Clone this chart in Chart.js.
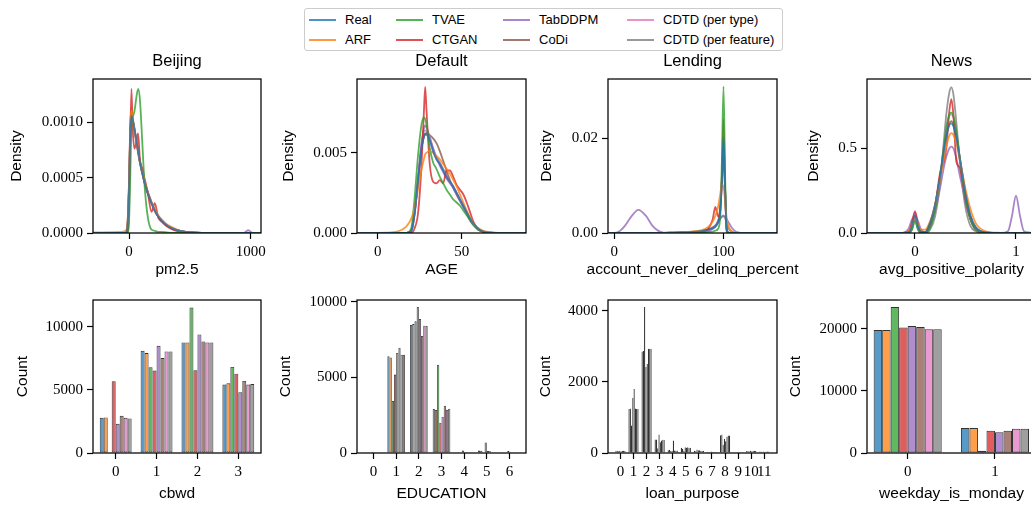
<!DOCTYPE html>
<html>
<head>
<meta charset="utf-8">
<title>Marginal distributions</title>
<script src="https://cdn.jsdelivr.net/npm/chart.js@4.4.1/dist/chart.umd.min.js"></script>
<style>
  html, body { margin: 0; padding: 0; background: #fff; }
  body { position: relative; width: 1031px; height: 508px; overflow: hidden; }
  canvas { position: absolute; }
  #legend { position: absolute; left: 304px; top: 8px; width: 479px; height: 43px; border: 1px solid #ccc;
            border-radius: 3px; box-sizing: border-box; font-family: "Liberation Sans", Arial, sans-serif; font-size: 13px; }
  #legend .swatch { position: absolute; width: 27px; height: 2px; }
  #legend .name { position: absolute; line-height: 16px; white-space: nowrap; color: #000; }
</style>
</head>
<body>
<div id="legend"></div>
<script>
const models = ["Real", "ARF", "TVAE", "CTGAN", "TabDDPM", "CoDi", "CDTD (per type)", "CDTD (per feature)"];
const tab10 = ["31,119,180", "255,127,14", "44,160,44", "214,39,40", "148,103,189", "140,86,75", "227,119,194", "127,127,127"];

// ---- Beijing / pm2.5 (density) ----
const beijingX = [-300, -60, -30, -15, 0, 10, 20, 30, 45, 60, 75, 90, 110, 130, 155, 185, 212, 240, 270, 310, 360, 420, 520, 700, 940, 980, 1020, 1080];
const beijingDensity = [
  [0, 0, 0, 0.00003, 0.0004, 0.00088, 0.00106, 0.00103, 0.00094, 0.00084, 0.00074, 0.00064, 0.00054, 0.00045, 0.00036, 0.00027, 0.0002, 0.00015, 0.00011, 0.00007, 0.00004, 0.00002, 0.000005, 0, 0, 0, 0, 0],
  [0.000005, 0.00001, 0.00002, 0.00006, 0.00045, 0.00095, 0.00111, 0.00104, 0.00093, 0.00083, 0.00073, 0.00064, 0.00055, 0.00046, 0.00037, 0.00028, 0.00021, 0.00016, 0.00012, 0.00008, 0.00005, 0.00002, 0.000005, 0, 0, 0, 0, 0],
  [0, 0, 0, 0, 0.0001, 0.0005, 0.00095, 0.00104, 0.0011, 0.00122, 0.0013, 0.0012, 0.0008, 0.0004, 0.00014, 0.00003, 0.00002, 0.00001, 0.00001, 0.000005, 0, 0, 0, 0, 0, 0, 0, 0],
  [0, 0, 0, 0, 0.0002, 0.0008, 0.0013, 0.00095, 0.00076, 0.00082, 0.0009, 0.00066, 0.00058, 0.00048, 0.00036, 0.00019, 0.00027, 0.00014, 0.0001, 0.00006, 0.00003, 0.00001, 0, 0, 0, 0, 0, 0],
  [0, 0, 0, 0.00002, 0.00038, 0.00086, 0.00103, 0.00101, 0.00093, 0.00084, 0.00075, 0.00065, 0.00055, 0.00046, 0.00037, 0.00028, 0.00021, 0.00015, 0.00011, 0.00007, 0.00004, 0.00002, 0.000005, 0, 0, 0.000025, 0, 0],
  [0, 0, 0, 0.00004, 0.00045, 0.00096, 0.00112, 0.00102, 0.00092, 0.00082, 0.00072, 0.00063, 0.00053, 0.00044, 0.00035, 0.00027, 0.0002, 0.00015, 0.00011, 0.00007, 0.00004, 0.00002, 0.000005, 0, 0, 0, 0, 0],
  [0, 0, 0, 0.00003, 0.0004, 0.0009, 0.00105, 0.00103, 0.00094, 0.00084, 0.00074, 0.00064, 0.00054, 0.00045, 0.00036, 0.00027, 0.0002, 0.00015, 0.00011, 0.00007, 0.00004, 0.00002, 0.000005, 0, 0, 0, 0, 0],
  [0, 0, 0, 0.00003, 0.00041, 0.00089, 0.00104, 0.00102, 0.00094, 0.00084, 0.00074, 0.00064, 0.00054, 0.00045, 0.00036, 0.00027, 0.0002, 0.00015, 0.00011, 0.00007, 0.00004, 0.00002, 0.000005, 0, 0, 0, 0, 0]
];
const beijingXTicks = [0, 1000];
const beijingYTicks = [0, 0.0005, 0.001];

// ---- Default / AGE (density) ----
const defaultX = [-12, 5, 12, 17, 20, 22, 24, 26, 27.5, 28.3, 29, 31, 33, 35, 37, 39, 41, 43, 45, 47, 49, 51, 53, 55, 57, 60, 64, 70, 80, 88];
const defaultDensity = [
  [0, 0, 0, 0, 0.0001, 0.0012, 0.0032, 0.0052, 0.006, 0.0062, 0.0062, 0.0058, 0.0051, 0.0046, 0.0043, 0.0039, 0.0035, 0.0032, 0.0029, 0.0025, 0.0021, 0.0017, 0.0013, 0.0009, 0.0006, 0.00025, 0.00006, 0.00001, 0, 0],
  [0, 0.00002, 0.0001, 0.0004, 0.0009, 0.0016, 0.0027, 0.0039, 0.0046, 0.0049, 0.005, 0.0051, 0.005, 0.0048, 0.0046, 0.0043, 0.004, 0.0037, 0.0033, 0.0029, 0.0024, 0.0019, 0.0014, 0.001, 0.0006, 0.0003, 0.0001, 0.00002, 0, 0],
  [0, 0, 0, 0, 0.0003, 0.0022, 0.0048, 0.0067, 0.0072, 0.0071, 0.0068, 0.0053, 0.0044, 0.004, 0.0035, 0.0031, 0.0027, 0.0024, 0.0021, 0.0019, 0.0017, 0.0014, 0.0011, 0.0008, 0.0005, 0.0002, 0.00005, 0, 0, 0],
  [0, 0, 0, 0, 0, 0.0003, 0.0012, 0.004, 0.0075, 0.0091, 0.0078, 0.0043, 0.0032, 0.0031, 0.0033, 0.0031, 0.0039, 0.0039, 0.0035, 0.003, 0.0027, 0.0024, 0.0019, 0.0013, 0.0007, 0.0002, 0.00004, 0, 0, 0],
  [0, 0, 0, 0, 0.0001, 0.0012, 0.0033, 0.0055, 0.0065, 0.0067, 0.0066, 0.006, 0.0053, 0.0047, 0.0042, 0.0038, 0.0034, 0.0031, 0.0028, 0.0024, 0.002, 0.0016, 0.0012, 0.0008, 0.0005, 0.0002, 0.00005, 0, 0, 0],
  [0, 0, 0, 0, 0.0002, 0.0013, 0.0033, 0.0052, 0.006, 0.0062, 0.0062, 0.0061, 0.0059, 0.0056, 0.0051, 0.0045, 0.0039, 0.0033, 0.0028, 0.0024, 0.002, 0.0016, 0.0012, 0.0008, 0.0005, 0.0002, 0.00005, 0, 0, 0],
  [0, 0, 0, 0, 0.0001, 0.0013, 0.0034, 0.0055, 0.0063, 0.0064, 0.0063, 0.0058, 0.0051, 0.0046, 0.0043, 0.0039, 0.0035, 0.0032, 0.0029, 0.0025, 0.0021, 0.0017, 0.0013, 0.0009, 0.0006, 0.00025, 0.00006, 0.00001, 0, 0],
  [0, 0, 0, 0, 0.0001, 0.0012, 0.0032, 0.0052, 0.006, 0.0061, 0.0061, 0.0058, 0.0052, 0.0047, 0.0044, 0.004, 0.0036, 0.0032, 0.0029, 0.0025, 0.0021, 0.0017, 0.0013, 0.0009, 0.0006, 0.00025, 0.00006, 0.00001, 0, 0]
];
const defaultXTicks = [0, 50];
const defaultYTicks = [0, 0.005];

// ---- Lending / account_never_delinq_percent (density) ----
const lendingX = [-5, 2, 6, 10, 15, 22, 29, 35, 40, 45, 55, 70, 80, 86, 90, 92.5, 95, 97, 98.5, 100, 101.5, 103, 105, 108, 112, 120, 149];
const lendingDensity = [
  [0, 0, 0, 0, 0, 0, 0, 0, 0, 0.00002, 0.0001, 0.0002, 0.0004, 0.0007, 0.001, 0.0013, 0.0022, 0.0045, 0.011, 0.0202, 0.009, 0.0005, 0, 0, 0, 0, 0],
  [0, 0, 0, 0, 0, 0, 0, 0, 0, 0.00003, 0.0001, 0.0003, 0.0006, 0.0013, 0.0024, 0.0036, 0.0055, 0.0082, 0.0102, 0.0098, 0.0065, 0.003, 0.0012, 0.0003, 0.00005, 0, 0],
  [0, 0, 0, 0, 0, 0, 0, 0, 0, 0, 0, 0, 0.0001, 0.0002, 0.0003, 0.0005, 0.0009, 0.0035, 0.015, 0.0309, 0.012, 0.0003, 0, 0, 0, 0, 0],
  [0, 0, 0, 0, 0, 0, 0, 0, 0, 0, 0, 0.0001, 0.0003, 0.0009, 0.0028, 0.0055, 0.0035, 0.0055, 0.012, 0.024, 0.009, 0.0005, 0, 0, 0, 0, 0],
  [0, 0.0001, 0.0006, 0.0016, 0.0033, 0.0049, 0.0036, 0.0015, 0.0005, 0.0001, 0, 0, 0.0001, 0.0004, 0.0009, 0.0015, 0.0023, 0.003, 0.0034, 0.0035, 0.0034, 0.0029, 0.0021, 0.001, 0.0002, 0, 0],
  [0, 0, 0, 0, 0, 0, 0, 0, 0, 0.00002, 0.0001, 0.0002, 0.0004, 0.0008, 0.0012, 0.0016, 0.0026, 0.005, 0.0105, 0.016, 0.0085, 0.0008, 0, 0, 0, 0, 0],
  [0, 0, 0, 0, 0, 0, 0, 0, 0, 0.00002, 0.0001, 0.0002, 0.0004, 0.0007, 0.001, 0.0014, 0.0023, 0.0046, 0.0108, 0.0195, 0.0088, 0.0006, 0, 0, 0, 0, 0],
  [0, 0, 0, 0, 0, 0, 0, 0, 0, 0, 0.0001, 0.0002, 0.0004, 0.0006, 0.0009, 0.0014, 0.0022, 0.003, 0.0035, 0.0037, 0.0031, 0.0019, 0.0008, 0.0002, 0, 0, 0]
];
const lendingXTicks = [0, 100];
const lendingYTicks = [0, 0.02];

// ---- News / avg_positive_polarity (density) ----
const newsX = [-0.475, -0.12, -0.06, -0.03, 0, 0.03, 0.06, 0.1, 0.15, 0.2, 0.25, 0.28, 0.31, 0.34, 0.36, 0.38, 0.41, 0.44, 0.47, 0.5, 0.55, 0.6, 0.7, 0.85, 0.92, 0.96, 1.0, 1.04, 1.08, 1.2];
const newsDensity = [
  [0, 0, 0.005, 0.04, 0.105, 0.04, 0.005, 0.004, 0.06, 0.17, 0.34, 0.46, 0.57, 0.635, 0.647, 0.63, 0.56, 0.45, 0.34, 0.23, 0.1, 0.035, 0.003, 0, 0, 0, 0, 0, 0, 0],
  [0, 0.001, 0.012, 0.045, 0.09, 0.05, 0.02, 0.02, 0.07, 0.17, 0.32, 0.42, 0.51, 0.575, 0.59, 0.58, 0.53, 0.44, 0.35, 0.26, 0.14, 0.06, 0.01, 0.001, 0, 0, 0, 0, 0, 0],
  [0, 0, 0, 0.02, 0.07, 0.02, 0, 0, 0.03, 0.14, 0.33, 0.48, 0.62, 0.7, 0.71, 0.69, 0.6, 0.46, 0.33, 0.21, 0.08, 0.02, 0, 0, 0, 0, 0, 0, 0, 0],
  [0, 0, 0.01, 0.06, 0.125, 0.05, 0.01, 0.005, 0.05, 0.16, 0.36, 0.41, 0.5, 0.72, 0.79, 0.7, 0.42, 0.39, 0.31, 0.2, 0.08, 0.02, 0.002, 0, 0, 0, 0, 0, 0, 0],
  [0, 0.001, 0.03, 0.08, 0.1, 0.07, 0.02, 0.005, 0.04, 0.13, 0.27, 0.37, 0.45, 0.5, 0.51, 0.5, 0.44, 0.35, 0.27, 0.18, 0.08, 0.03, 0.003, 0, 0.01, 0.1, 0.22, 0.1, 0.01, 0],
  [0, 0, 0.005, 0.04, 0.1, 0.04, 0.005, 0.004, 0.06, 0.17, 0.34, 0.47, 0.58, 0.645, 0.66, 0.64, 0.57, 0.46, 0.35, 0.24, 0.1, 0.035, 0.003, 0, 0, 0, 0, 0, 0, 0],
  [0, 0, 0.006, 0.05, 0.13, 0.05, 0.006, 0.004, 0.05, 0.16, 0.35, 0.49, 0.62, 0.69, 0.7, 0.68, 0.59, 0.46, 0.33, 0.21, 0.08, 0.025, 0.002, 0, 0, 0, 0, 0, 0, 0],
  [0, 0, 0, 0.02, 0.08, 0.02, 0, 0, 0.02, 0.1, 0.3, 0.5, 0.7, 0.83, 0.86, 0.82, 0.65, 0.45, 0.28, 0.15, 0.04, 0.01, 0, 0, 0, 0, 0, 0, 0, 0]
];
const newsXTicks = [0, 1];
const newsYTicks = [0, 0.5];

// ---- cbwd (counts) ----
const cbwdCats = [0, 1, 2, 3];
const cbwdCounts = [
  [2790, 8100, 8760, 5420],
  [2820, 7920, 8760, 5530],
  [0, 6790, 11530, 6820],
  [5690, 6530, 6550, 6290],
  [2320, 8500, 9400, 4820],
  [2950, 7530, 8840, 5710],
  [2790, 8050, 8760, 5420],
  [2740, 8050, 8760, 5470]
];
const cbwdYTicks = [0, 5000, 10000];

// ---- EDUCATION (counts) ----
const eduCats = [0, 1, 2, 3, 4, 5, 6];
const eduCounts = [
  [14, 6390, 8460, 2910, 30, 160, 20],
  [20, 6320, 8520, 2840, 40, 150, 25],
  [0, 3440, 8700, 5840, 0, 0, 0],
  [90, 5180, 9650, 2000, 170, 700, 130],
  [10, 6610, 8860, 2400, 40, 130, 20],
  [15, 6960, 7730, 3130, 50, 110, 30],
  [14, 6500, 8410, 2860, 30, 50, 20],
  [14, 6500, 8390, 2930, 30, 45, 20]
];
const eduYTicks = [0, 5000, 10000];

// ---- loan_purpose (counts) ----
const loanCats = [0, 1, 2, 3, 4, 5, 6, 7, 8, 9, 10, 11];
const loanCounts = [
  [60, 1240, 2850, 380, 80, 150, 60, 30, 500, 5, 55, 40],
  [60, 1250, 2870, 380, 90, 120, 50, 30, 520, 5, 55, 40],
  [50, 770, 4110, 130, 60, 60, 100, 20, 230, 0, 40, 20],
  [55, 1550, 2420, 520, 60, 160, 80, 40, 390, 5, 60, 45],
  [50, 1800, 2500, 300, 350, 150, 75, 30, 330, 10, 50, 35],
  [60, 1250, 2930, 350, 70, 160, 60, 35, 460, 5, 60, 40],
  [60, 1240, 2930, 370, 70, 150, 60, 30, 490, 5, 55, 40],
  [60, 1240, 2930, 370, 70, 150, 60, 30, 490, 5, 55, 40]
];
const loanYTicks = [0, 2000, 4000];

// ---- weekday_is_monday (counts) ----
const mondayCats = [0, 1];
const mondayCounts = [
  [19790, 4010],
  [19790, 4010],
  [23480, 370],
  [20160, 3580],
  [20430, 3320],
  [20270, 3580],
  [19890, 3900],
  [19890, 3900]
];
const mondayYTicks = [0, 10000, 20000];

function rgba(i, a) { return "rgba(" + tab10[i] + "," + a + ")"; }

Chart.defaults.font.family = "'Liberation Sans', Arial, sans-serif";
Chart.defaults.color = "#000";

const tickFont = { family: "'Liberation Serif', 'Times New Roman', serif", size: 15 };
const labelFont = { size: 15.5 };
const titleFont = { size: 16.5, weight: "normal" };
const padRight = 30;

// black box round every axes
const frame = {
  id: "frame",
  afterDraw(chart) {
    const a = chart.chartArea, ctx = chart.ctx;
    ctx.save();
    ctx.strokeStyle = "#000";
    ctx.lineWidth = 1.25;
    ctx.strokeRect(a.left, a.top, a.right - a.left, a.bottom - a.top);
    ctx.restore();
  }
};

// x label drawn without the scale's maxWidth squeeze (long names run past the axes, as in matplotlib)
function xLabelPlugin(text) {
  return {
    id: "xLabel",
    afterDraw(chart) {
      const a = chart.chartArea, ctx = chart.ctx;
      ctx.save();
      ctx.font = "15.5px 'Liberation Sans', Arial, sans-serif";
      ctx.fillStyle = "#000";
      ctx.textAlign = "center";
      ctx.textBaseline = "middle";
      ctx.fillText(text, (a.left + a.right) / 2, chart.height - 10.3);
      ctx.restore();
    }
  };
}

// legend (column-major, 4 columns)
const legendBox = document.getElementById("legend");
const lineLeft = [4, 91, 198, 322], textLeft = [40, 127, 234, 358], rowMid = [10.5, 30.5];
models.forEach((m, i) => {
  const col = Math.floor(i / 2), row = i % 2;
  const sw = document.createElement("div");
  sw.className = "swatch";
  sw.style.left = lineLeft[col] + "px";
  sw.style.top = (rowMid[row] - 1) + "px";
  sw.style.backgroundColor = rgba(i, 0.8);
  legendBox.appendChild(sw);
  const tx = document.createElement("div");
  tx.className = "name";
  tx.style.left = textLeft[col] + "px";
  tx.style.top = (rowMid[row] - 8) + "px";
  tx.textContent = m;
  legendBox.appendChild(tx);
});

function makeAxes(p) {
  return {
    x: {
      type: "linear", min: p.xMin, max: p.xMax, offset: false,
      afterBuildTicks: s => { s.ticks = p.xTicks.map(v => ({ value: v })); },
      afterFit: s => { s.height = p.xh; },
      grid: { drawOnChartArea: false, drawTicks: true, tickLength: 6, tickColor: "#000", tickWidth: 1.2, offset: false },
      border: { display: false },
      ticks: { font: tickFont, color: "#000", padding: 4, maxRotation: 0, autoSkip: false, callback: v => String(v) },
      title: { display: false }
    },
    y: {
      min: 0, max: p.yMax,
      afterBuildTicks: s => { s.ticks = p.yTicks.map(v => ({ value: v })); },
      afterFit: s => { s.width = p.yw; },
      grid: { drawOnChartArea: false, drawTicks: true, tickLength: 6, tickColor: "#000", tickWidth: 1.2 },
      border: { display: false },
      ticks: { font: tickFont, color: "#000", padding: 4, callback: v => v.toFixed(p.yDec) },
      title: { display: true, text: p.yLabel, font: labelFont, color: "#000", padding: { top: 1, bottom: 0 } }
    }
  };
}

function place(p) {
  const top = p.row === 0 ? 52 : 287;
  const bottom = p.row === 0 ? 280 : 504;
  const plotBottom = p.row === 0 ? 233 : 453;
  const cv = document.createElement("canvas");
  cv.width = p.plotRight + padRight - p.left;
  cv.height = bottom - top;
  cv.style.left = p.left + "px";
  cv.style.top = top + "px";
  document.body.appendChild(cv);
  p.yw = p.plotLeft - p.left;
  p.xh = bottom - plotBottom;
  return cv;
}

function baseOptions(p) {
  return {
    responsive: false, animation: false, devicePixelRatio: 1,
    layout: { padding: { left: 0, right: padRight, top: p.row === 0 ? 0 : 12, bottom: 0 } },
    plugins: {
      legend: { display: false }, tooltip: { enabled: false },
      title: { display: !!p.title, text: p.title, fullSize: false, font: titleFont, color: "#000", padding: { top: 0, bottom: 7.2 } }
    },
    scales: makeAxes(p)
  };
}

function kdePanel(p, xs, ys) {
  const cv = place(p);
  new Chart(cv, {
    type: "line",
    data: {
      datasets: models.map((m, i) => ({
        label: m,
        data: xs.map((x, j) => ({ x: x, y: ys[i][j] })),
        borderColor: rgba(i, 0.8),
        borderWidth: 1.8,
        pointRadius: 0,
        cubicInterpolationMode: "monotone",
        fill: false
      }))
    },
    options: baseOptions(p),
    plugins: [frame, xLabelPlugin(p.xLabel)]
  });
}

function countPanel(p, cats, counts) {
  const cv = place(p);
  p.xTicks = cats;
  new Chart(cv, {
    type: "bar",
    data: {
      datasets: models.map((m, i) => ({
        label: m,
        data: cats.map((c, j) => ({ x: c, y: counts[i][j] })),
        backgroundColor: rgba(i, 0.75),
        borderColor: "rgba(0,0,0,0.8)",
        borderWidth: p.edge,
        borderSkipped: false,
        categoryPercentage: 0.78,
        barPercentage: 1
      }))
    },
    options: baseOptions(p),
    plugins: [frame, xLabelPlugin(p.xLabel)]
  });
}

kdePanel({ row: 0, left: 6, plotLeft: 93, plotRight: 261, title: "Beijing", xLabel: "pm2.5", yLabel: "Density",
  xMin: -296, xMax: 1085, yMax: 0.00139, xTicks: beijingXTicks, yTicks: beijingYTicks, yDec: 4 }, beijingX, beijingDensity);
kdePanel({ row: 0, left: 278, plotLeft: 357, plotRight: 526, title: "Default", xLabel: "AGE", yLabel: "Density",
  xMin: -12.3, xMax: 88.3, yMax: 0.0096, xTicks: defaultXTicks, yTicks: defaultYTicks, yDec: 3 }, defaultX, defaultDensity);
kdePanel({ row: 0, left: 536, plotLeft: 608, plotRight: 777, title: "Lending", xLabel: "account_never_delinq_percent", yLabel: "Density",
  xMin: -5.8, xMax: 149, yMax: 0.0325, xTicks: lendingXTicks, yTicks: lendingYTicks, yDec: 2 }, lendingX, lendingDensity);
kdePanel({ row: 0, left: 803, plotLeft: 867, plotRight: 1036, title: "News", xLabel: "avg_positive_polarity", yLabel: "Density",
  xMin: -0.475, xMax: 1.198, yMax: 0.909, xTicks: newsXTicks, yTicks: newsYTicks, yDec: 1 }, newsX, newsDensity);

countPanel({ row: 1, left: 12, plotLeft: 93, plotRight: 261, xLabel: "cbwd", yLabel: "Count", edge: 0.9,
  xMin: -0.555, xMax: 3.555, yMax: 12126, yTicks: cbwdYTicks, yDec: 0 }, cbwdCats, cbwdCounts);
countPanel({ row: 1, left: 275, plotLeft: 357, plotRight: 526, xLabel: "EDUCATION", yLabel: "Count", edge: 0.8,
  xMin: -0.73, xMax: 6.73, yMax: 10112, yTicks: eduYTicks, yDec: 0 }, eduCats, eduCounts);
countPanel({ row: 1, left: 535, plotLeft: 608, plotRight: 777, xLabel: "loan_purpose", yLabel: "Count", edge: 0.8,
  xMin: -0.95, xMax: 11.97, yMax: 4300, yTicks: loanYTicks, yDec: 0 }, loanCats, loanCounts);
countPanel({ row: 1, left: 785, plotLeft: 867, plotRight: 1036, xLabel: "weekday_is_monday", yLabel: "Count", edge: 1,
  xMin: -0.466, xMax: 1.47, yMax: 24600, yTicks: mondayYTicks, yDec: 0 }, mondayCats, mondayCounts);
</script>
</body>
</html>
